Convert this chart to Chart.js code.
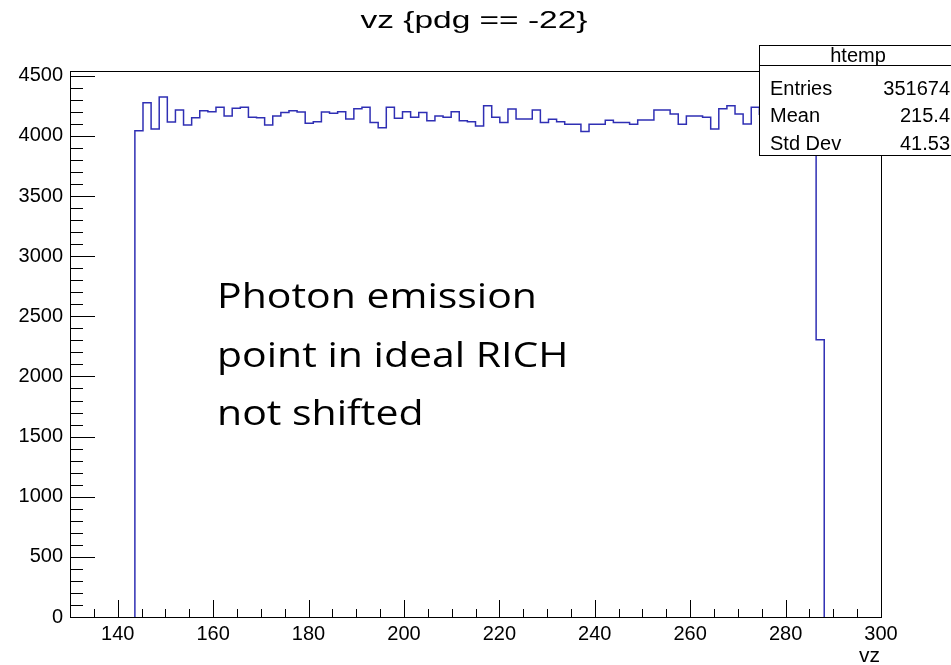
<!DOCTYPE html>
<html>
<head>
<meta charset="utf-8">
<title>vz {pdg == -22}</title>
<script src="https://cdn.jsdelivr.net/npm/chart.js@4.4.1/dist/chart.umd.min.js"></script>
<style>
  html, body { margin: 0; padding: 0; background: #fff; }
  #wrap { width: 951px; height: 665px; }
</style>
</head>
<body>
<div id="wrap"><canvas id="histo" width="951" height="665"></canvas></div>
<script>
// htemp: vz for pdg == -22, 100 bins between 130 and 300
const xMin = 130
const xMax = 300
const yMax = 4540

const counts = [
    0, 0, 0, 0, 0, 0, 0, 0, 4044, 4277,
    4058, 4324, 4116, 4216, 4091, 4152, 4210, 4202, 4238, 4166,
    4230, 4238, 4155, 4152, 4091, 4166, 4194, 4210, 4199, 4105,
    4119, 4199, 4188, 4202, 4141, 4227, 4238, 4111, 4069, 4238,
    4147, 4202, 4155, 4194, 4127, 4166, 4155, 4202, 4127, 4119,
    4083, 4252, 4155, 4111, 4224, 4141, 4141, 4216, 4111, 4138,
    4119, 4097, 4097, 4036, 4097, 4097, 4130, 4111, 4111, 4097,
    4133, 4133, 4216, 4216, 4183, 4097, 4166, 4166, 4155, 4058,
    4227, 4252, 4183, 4100, 4238, 4180, 4130, 4210, 4160, 4100,
    4190, 4150, 2306, 0, 0, 0, 0, 0, 0, 0
]

const xTickValues = [140, 160, 180, 200, 220, 240, 260, 280, 300]
const yTickValues = [0, 500, 1000, 1500, 2000, 2500, 3000, 3500, 4000, 4500]

const statsTitle = 'htemp'
const statsNames = ['Entries', 'Mean', 'Std Dev']
const statsValues = ['351674', '215.4', '41.53']
const noteLines = ['Photon emission', 'point in ideal RICH', 'not shifted']

const rootFont = '"Liberation Sans", Arial, Helvetica, sans-serif'

// step outline: one point per bin low edge, closed down to zero at both ends
const binWidth = (xMax - xMin) / counts.length
let first = counts.findIndex(c => c > 0)
let last = counts.length - 1 - [...counts].reverse().findIndex(c => c > 0)
const points = [{ x: xMin + first * binWidth, y: 0 }]
for (let i = first; i <= last; i++) {
    points.push({ x: xMin + i * binWidth, y: counts[i] })
}
points.push({ x: xMin + (last + 1) * binWidth, y: 0 })

// the screenshot is a bit wider than tall, so text gets stretched sideways
function stretchText(ctx, text, x, y, sx) {
    ctx.save()
    ctx.translate(x, y)
    ctx.scale(sx, 1)
    ctx.fillText(text, 0, 0)
    ctx.restore()
}

const rootFrame = {
    id: 'rootFrame',
    afterDraw(chart) {
        const ctx = chart.ctx
        const a = chart.chartArea
        const x = chart.scales.x
        const y = chart.scales.y
        ctx.save()
        ctx.strokeStyle = '#000'
        ctx.lineWidth = 1

        // frame
        ctx.strokeRect(Math.round(a.left) + 0.5, Math.round(a.top) + 0.5,
            Math.round(a.right - a.left), Math.round(a.bottom - a.top))

        // ticks inside the frame
        ctx.beginPath()
        for (let v = 135; v < xMax; v += 5) {
            const px = Math.round(x.getPixelForValue(v)) + 0.5
            const len = xTickValues.includes(v) ? 17 : 8
            ctx.moveTo(px, a.bottom)
            ctx.lineTo(px, a.bottom - len)
        }
        for (let v = 0; v <= yMax; v += 100) {
            const py = Math.round(y.getPixelForValue(v)) + 0.5
            const len = yTickValues.includes(v) ? 25 : 13
            ctx.moveTo(a.left, py)
            ctx.lineTo(a.left + len, py)
        }
        ctx.stroke()

        // axis title
        ctx.fillStyle = '#000'
        ctx.font = '21px ' + rootFont
        ctx.textAlign = 'right'
        ctx.textBaseline = 'middle'
        ctx.fillText('vz', a.right - 1, 656)

        // note written over the plot
        ctx.font = '35px "Open Sans", Lato, sans-serif'
        ctx.textAlign = 'left'
        ctx.textBaseline = 'alphabetic'
        const noteScale = 320 / ctx.measureText(noteLines[0]).width
        noteLines.forEach((line, i) => {
            stretchText(ctx, line, 217, 308 + i * 58.5, noteScale)
        })

        // stats box
        ctx.fillStyle = '#fff'
        ctx.fillRect(759.5, 45.5, 200, 110)
        ctx.strokeRect(759.5, 45.5, 200, 110)
        ctx.beginPath()
        ctx.moveTo(759.5, 65.5)
        ctx.lineTo(951, 65.5)
        ctx.stroke()
        ctx.fillStyle = '#000'
        ctx.font = '20px ' + rootFont
        ctx.textAlign = 'center'
        ctx.textBaseline = 'middle'
        ctx.fillText(statsTitle, 858, 56)
        statsNames.forEach((name, i) => {
            const ty = 89 + i * 27.5
            ctx.textAlign = 'left'
            ctx.fillText(name, 770, ty)
            ctx.textAlign = 'right'
            ctx.fillText(statsValues[i], 950, ty)
        })

        // title
        ctx.font = '24px ' + rootFont
        ctx.textAlign = 'center'
        const title = 'vz {pdg == -22}'
        stretchText(ctx, title, 474, 21, 227 / ctx.measureText(title).width)
        ctx.restore()
    }
}

const chart = new Chart(document.getElementById('histo').getContext('2d'), {
    type: 'line',
    data: {
        datasets: [{
            label: 'htemp',
            data: points,
            stepped: 'before',
            borderColor: '#2f2fb4',
            borderWidth: 1.5,
            pointRadius: 0,
            fill: false
        }]
    },
    options: {
        responsive: false,
        animation: false,
        layout: { padding: { left: 0, right: 70, top: 71, bottom: 0 } },
        plugins: {
            legend: { display: false },
            tooltip: { enabled: false },
            title: { display: false }
        },
        scales: {
            x: {
                type: 'linear',
                min: xMin,
                max: xMax,
                afterBuildTicks: s => { s.ticks = xTickValues.map(v => ({ value: v })) },
                afterFit: s => { s.height = 48 },
                grid: { display: false, drawTicks: false },
                border: { display: false },
                ticks: {
                    autoSkip: false,
                    maxRotation: 0,
                    padding: 5,
                    color: '#000',
                    callback: v => String(v),
                    font: { family: rootFont, size: 20 }
                }
            },
            y: {
                type: 'linear',
                min: 0,
                max: yMax,
                afterBuildTicks: s => { s.ticks = yTickValues.map(v => ({ value: v })) },
                afterFit: s => { s.width = 70 },
                grid: { display: false, drawTicks: false },
                border: { display: false },
                ticks: {
                    padding: 7,
                    color: '#000',
                    callback: v => String(v),
                    font: { family: rootFont, size: 20 }
                }
            }
        }
    },
    plugins: [rootFrame]
})
</script>
</body>
</html>
